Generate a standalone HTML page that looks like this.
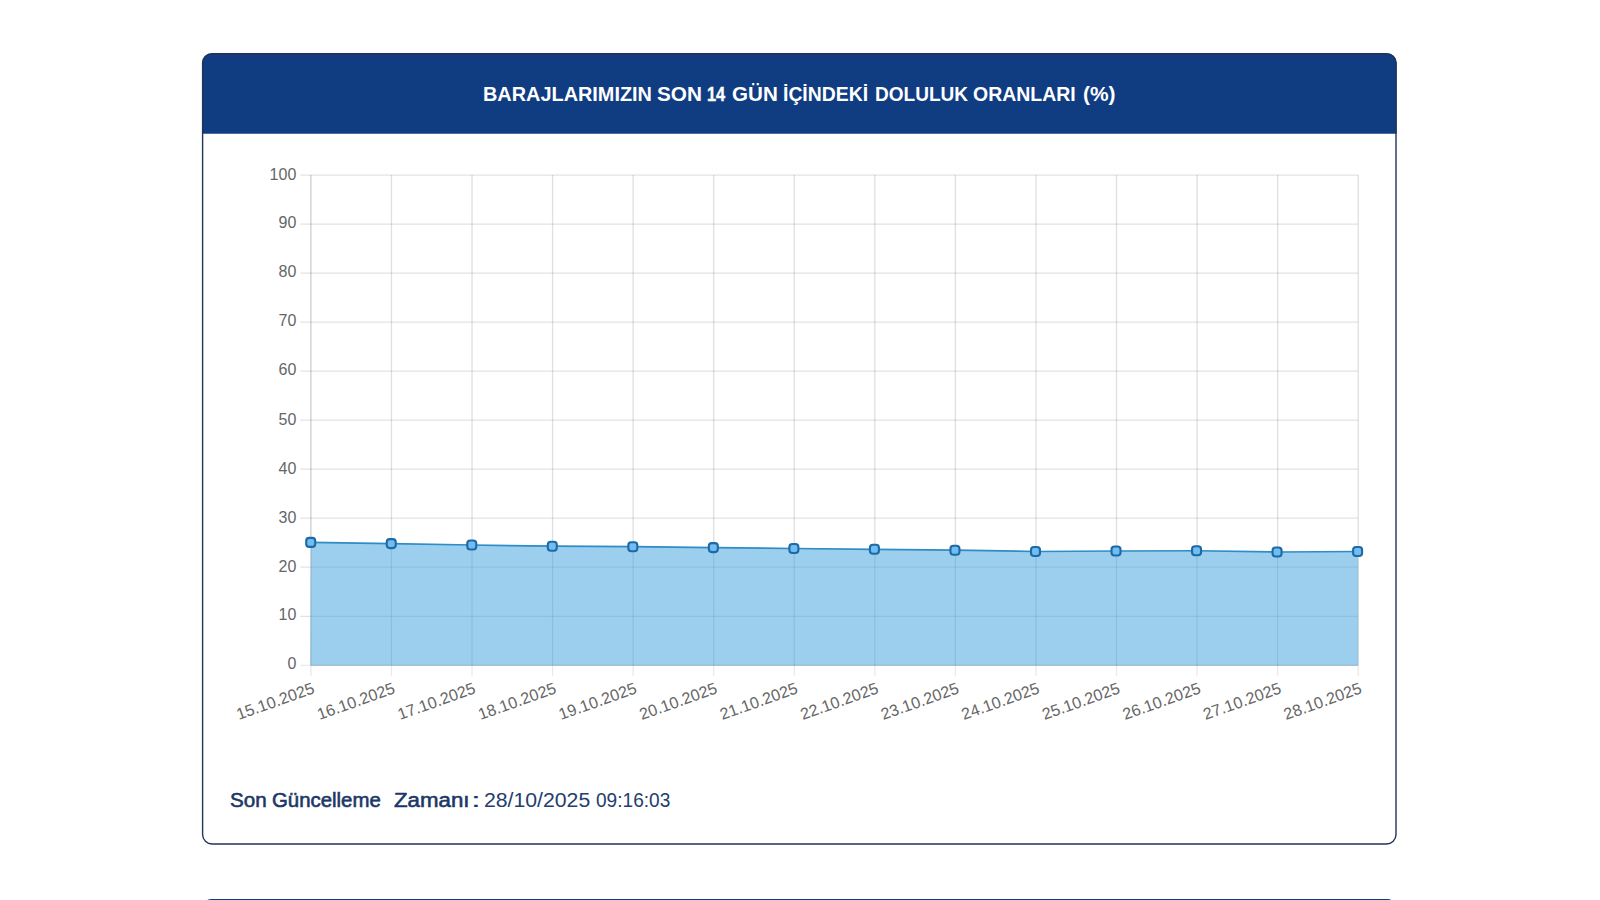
<!DOCTYPE html>
<html lang="tr"><head><meta charset="utf-8"><title>Baraj Doluluk Oranları</title>
<style>
html,body{margin:0;padding:0;background:#fff;}
body{width:1600px;height:900px;overflow:hidden;position:relative;font-family:"Liberation Sans",sans-serif;}
.tw,.bw,.rw{position:absolute;white-space:nowrap;font-size:20px;line-height:24px;transform-origin:0 50%;}
.tw{color:#fff;font-weight:bold;font-size:20.5px;}
.bw{color:#1b3768;font-weight:normal;-webkit-text-stroke:0.5px #1b3768;}
.bc{-webkit-text-stroke:0.15px #1b3768;}
.rw{color:#243e6e;font-weight:normal;}
svg.chart{position:absolute;left:0;top:0;}
.yl{font-family:"Liberation Sans",sans-serif;font-size:16px;fill:#666;}
.xl{font-family:"Liberation Sans",sans-serif;font-size:16.25px;fill:#666;}
</style></head><body>
<svg class="chart" width="1600" height="900" viewBox="0 0 1600 900">
<path d="M202.00 133.70 V62.70 A9.50 9.50 0 0 1 211.50 53.20 H1387.20 A9.50 9.50 0 0 1 1396.70 62.70 V133.70 Z" fill="#103c82"/>
<rect x="202.60" y="53.80" width="1193.40" height="790.20" rx="9.5" fill="none" stroke="#203459" stroke-width="1.4"/>
<path d="M202.00 901 V908.50 A9.50 9.50 0 0 1 211.50 899.00 H1387.20 A9.50 9.50 0 0 1 1396.70 908.50 V901 Z" fill="#103c82"/>
<g stroke="#000" stroke-opacity="0.115" stroke-width="1.25"><line x1="300.40" y1="616.27" x2="1358.20" y2="616.27"/><line x1="300.40" y1="567.24" x2="1358.20" y2="567.24"/><line x1="300.40" y1="518.21" x2="1358.20" y2="518.21"/><line x1="300.40" y1="469.18" x2="1358.20" y2="469.18"/><line x1="300.40" y1="420.15" x2="1358.20" y2="420.15"/><line x1="300.40" y1="371.12" x2="1358.20" y2="371.12"/><line x1="300.40" y1="322.09" x2="1358.20" y2="322.09"/><line x1="300.40" y1="273.06" x2="1358.20" y2="273.06"/><line x1="300.40" y1="224.03" x2="1358.20" y2="224.03"/><line x1="300.40" y1="175.00" x2="1358.20" y2="175.00"/></g>
<g stroke="#000" stroke-opacity="0.2" stroke-width="1.25"><line x1="310.90" y1="665.30" x2="1358.20" y2="665.30"/><line x1="310.90" y1="175.00" x2="310.90" y2="665.30"/></g>
<g stroke="#000" stroke-opacity="0.08" stroke-width="1.25"><line x1="300.40" y1="665.30" x2="310.90" y2="665.30"/></g>
<g stroke="#000" stroke-opacity="0.125" stroke-width="1.3"><line x1="391.46" y1="175.00" x2="391.46" y2="665.30"/><line x1="472.02" y1="175.00" x2="472.02" y2="665.30"/><line x1="552.58" y1="175.00" x2="552.58" y2="665.30"/><line x1="633.15" y1="175.00" x2="633.15" y2="665.30"/><line x1="713.71" y1="175.00" x2="713.71" y2="665.30"/><line x1="794.27" y1="175.00" x2="794.27" y2="665.30"/><line x1="874.83" y1="175.00" x2="874.83" y2="665.30"/><line x1="955.39" y1="175.00" x2="955.39" y2="665.30"/><line x1="1035.95" y1="175.00" x2="1035.95" y2="665.30"/><line x1="1116.52" y1="175.00" x2="1116.52" y2="665.30"/><line x1="1197.08" y1="175.00" x2="1197.08" y2="665.30"/><line x1="1277.64" y1="175.00" x2="1277.64" y2="665.30"/><line x1="1358.20" y1="175.00" x2="1358.20" y2="665.30"/></g>
<g stroke="#000" stroke-opacity="0.085" stroke-width="1.3"><line x1="310.90" y1="665.30" x2="310.90" y2="675.80"/><line x1="391.46" y1="665.30" x2="391.46" y2="675.80"/><line x1="472.02" y1="665.30" x2="472.02" y2="675.80"/><line x1="552.58" y1="665.30" x2="552.58" y2="675.80"/><line x1="633.15" y1="665.30" x2="633.15" y2="675.80"/><line x1="713.71" y1="665.30" x2="713.71" y2="675.80"/><line x1="794.27" y1="665.30" x2="794.27" y2="675.80"/><line x1="874.83" y1="665.30" x2="874.83" y2="675.80"/><line x1="955.39" y1="665.30" x2="955.39" y2="675.80"/><line x1="1035.95" y1="665.30" x2="1035.95" y2="675.80"/><line x1="1116.52" y1="665.30" x2="1116.52" y2="675.80"/><line x1="1197.08" y1="665.30" x2="1197.08" y2="675.80"/><line x1="1277.64" y1="665.30" x2="1277.64" y2="675.80"/><line x1="1358.20" y1="665.30" x2="1358.20" y2="675.80"/></g>
<polygon points="310.90,542.40 391.46,543.60 472.02,545.00 552.58,546.20 633.15,546.70 713.71,547.60 794.27,548.50 874.83,549.30 955.39,550.20 1035.95,551.50 1116.52,551.00 1197.08,550.75 1277.64,552.00 1358.20,551.50 1358.20,665.60 310.40,665.60" fill="#3a9fdb" fill-opacity="0.5"/>
<polyline points="310.90,542.40 391.46,543.60 472.02,545.00 552.58,546.20 633.15,546.70 713.71,547.60 794.27,548.50 874.83,549.30 955.39,550.20 1035.95,551.50 1116.52,551.00 1197.08,550.75 1277.64,552.00 1358.20,551.50" fill="none" stroke="#2e8cc6" stroke-width="1.7" stroke-linejoin="round"/>
<rect x="306.20" y="537.90" width="9" height="9" rx="3" fill="#6fbdf2" stroke="#1f6aa5" stroke-width="2.1"/>
<rect x="386.73" y="539.10" width="9" height="9" rx="3" fill="#6fbdf2" stroke="#1f6aa5" stroke-width="2.1"/>
<rect x="467.26" y="540.50" width="9" height="9" rx="3" fill="#6fbdf2" stroke="#1f6aa5" stroke-width="2.1"/>
<rect x="547.79" y="541.70" width="9" height="9" rx="3" fill="#6fbdf2" stroke="#1f6aa5" stroke-width="2.1"/>
<rect x="628.32" y="542.20" width="9" height="9" rx="3" fill="#6fbdf2" stroke="#1f6aa5" stroke-width="2.1"/>
<rect x="708.85" y="543.10" width="9" height="9" rx="3" fill="#6fbdf2" stroke="#1f6aa5" stroke-width="2.1"/>
<rect x="789.38" y="544.00" width="9" height="9" rx="3" fill="#6fbdf2" stroke="#1f6aa5" stroke-width="2.1"/>
<rect x="869.92" y="544.80" width="9" height="9" rx="3" fill="#6fbdf2" stroke="#1f6aa5" stroke-width="2.1"/>
<rect x="950.45" y="545.70" width="9" height="9" rx="3" fill="#6fbdf2" stroke="#1f6aa5" stroke-width="2.1"/>
<rect x="1030.98" y="547.00" width="9" height="9" rx="3" fill="#6fbdf2" stroke="#1f6aa5" stroke-width="2.1"/>
<rect x="1111.51" y="546.50" width="9" height="9" rx="3" fill="#6fbdf2" stroke="#1f6aa5" stroke-width="2.1"/>
<rect x="1192.04" y="546.25" width="9" height="9" rx="3" fill="#6fbdf2" stroke="#1f6aa5" stroke-width="2.1"/>
<rect x="1272.57" y="547.50" width="9" height="9" rx="3" fill="#6fbdf2" stroke="#1f6aa5" stroke-width="2.1"/>
<rect x="1353.10" y="547.00" width="9" height="9" rx="3" fill="#6fbdf2" stroke="#1f6aa5" stroke-width="2.1"/>
<text class="yl" x="296.30" y="669.35" text-anchor="end">0</text>
<text class="yl" x="296.30" y="620.45" text-anchor="end">10</text>
<text class="yl" x="296.30" y="571.55" text-anchor="end">20</text>
<text class="yl" x="296.30" y="522.65" text-anchor="end">30</text>
<text class="yl" x="296.30" y="473.75" text-anchor="end">40</text>
<text class="yl" x="296.30" y="424.85" text-anchor="end">50</text>
<text class="yl" x="296.30" y="375.15" text-anchor="end">60</text>
<text class="yl" x="296.30" y="326.25" text-anchor="end">70</text>
<text class="yl" x="296.30" y="277.35" text-anchor="end">80</text>
<text class="yl" x="296.30" y="228.45" text-anchor="end">90</text>
<text class="yl" x="296.30" y="180.35" text-anchor="end">100</text>
<text class="xl" text-anchor="end" transform="translate(315.50,692.80) rotate(-19.5)">15.10.2025</text>
<text class="xl" text-anchor="end" transform="translate(396.06,692.80) rotate(-19.5)">16.10.2025</text>
<text class="xl" text-anchor="end" transform="translate(476.62,692.80) rotate(-19.5)">17.10.2025</text>
<text class="xl" text-anchor="end" transform="translate(557.18,692.80) rotate(-19.5)">18.10.2025</text>
<text class="xl" text-anchor="end" transform="translate(637.75,692.80) rotate(-19.5)">19.10.2025</text>
<text class="xl" text-anchor="end" transform="translate(718.31,692.80) rotate(-19.5)">20.10.2025</text>
<text class="xl" text-anchor="end" transform="translate(798.87,692.80) rotate(-19.5)">21.10.2025</text>
<text class="xl" text-anchor="end" transform="translate(879.43,692.80) rotate(-19.5)">22.10.2025</text>
<text class="xl" text-anchor="end" transform="translate(959.99,692.80) rotate(-19.5)">23.10.2025</text>
<text class="xl" text-anchor="end" transform="translate(1040.55,692.80) rotate(-19.5)">24.10.2025</text>
<text class="xl" text-anchor="end" transform="translate(1121.12,692.80) rotate(-19.5)">25.10.2025</text>
<text class="xl" text-anchor="end" transform="translate(1201.68,692.80) rotate(-19.5)">26.10.2025</text>
<text class="xl" text-anchor="end" transform="translate(1282.24,692.80) rotate(-19.5)">27.10.2025</text>
<text class="xl" text-anchor="end" transform="translate(1362.80,692.80) rotate(-19.5)">28.10.2025</text>
</svg>
<div class="ttl"><span class="tw" style="left:482.83px;top:82.20px;transform:scaleX(0.9698)">BARAJLARIMIZIN</span><span class="tw" style="left:657.09px;top:82.20px;transform:scaleX(1.0119)">SON</span><span class="tw" style="left:707.30px;top:82.20px;transform:scaleX(0.7955);-webkit-text-stroke:0.45px #fff">14</span><span class="tw" style="left:732.10px;top:82.20px;transform:scaleX(1.0047)">GÜN</span><span class="tw" style="left:782.81px;top:82.20px;transform:scaleX(0.9449)">İÇİNDEKİ</span><span class="tw" style="left:874.67px;top:82.20px;transform:scaleX(0.9283)">DOLULUK</span><span class="tw" style="left:973.45px;top:82.20px;transform:scaleX(0.9491)">ORANLARI</span><span class="tw" style="left:1082.73px;top:82.20px;transform:scaleX(1.0217)">(%)</span></div>
<div class="upd"><span class="bw" style="left:229.97px;top:788.00px;transform:scaleX(1.0294);-webkit-text-stroke-width:0.59px">Son</span><span class="bw" style="left:271.98px;top:788.00px;transform:scaleX(1.0190);-webkit-text-stroke-width:0.59px">Güncelleme</span><span class="bw" style="left:393.50px;top:788.00px;transform:scaleX(1.1136);-webkit-text-stroke-width:0.57px">Zamanı</span><span class="bw bc" style="left:471.00px;top:788.00px;transform:scaleX(1.7500)">:</span><span class="rw" style="left:483.94px;top:788.00px;transform:scaleX(1.0612)">28/10/2025</span><span class="rw" style="left:595.55px;top:788.00px;transform:scaleX(0.9539)">09:16:03</span></div>
</body></html>
